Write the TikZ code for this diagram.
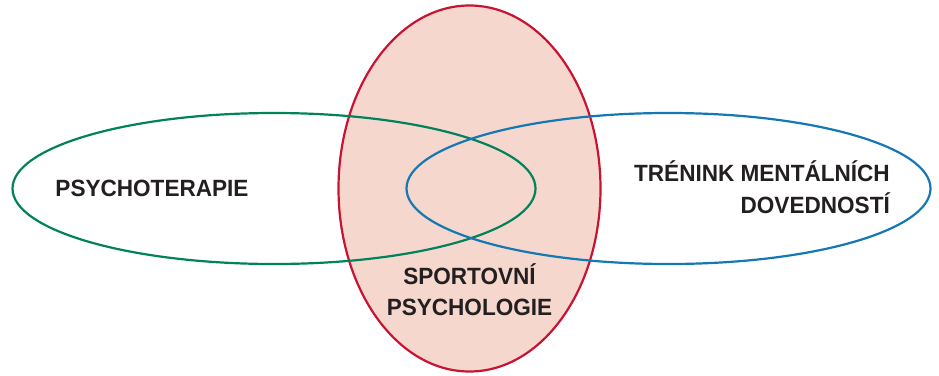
\documentclass[tikz,border=0pt]{standalone}
\usepackage{fontspec}
\setmainfont{Liberation Sans}[FakeStretch=0.96]
\usetikzlibrary{shapes.geometric}

\definecolor{psyGreen}{RGB}{0,130,90}
\definecolor{mentBlue}{RGB}{20,120,180}
\definecolor{sportRed}{RGB}{200,20,50}
\definecolor{sportFill}{RGB}{245,215,205}
\definecolor{labelGray}{RGB}{35,31,32}

\begin{document}
\begin{tikzpicture}[
  x=1pt,y=-1pt,
  field/.style={ellipse,draw,line width=2.2pt,inner sep=0pt},
  label/.style={font=\bfseries\fontsize{23.5}{31.5}\selectfont,text=labelGray,inner sep=0pt}
]
  \useasboundingbox (0,0) rectangle (939,375);

  % sports psychology in the middle
  \node[field,draw=sportRed,fill=sportFill,minimum width=262pt,minimum height=366pt] (sport) at (469.5,188.5) {};
  \node[field,draw=psyGreen,minimum width=523pt,minimum height=151pt] (psycho) at (274,188.5) {};
  \node[field,draw=mentBlue,minimum width=524pt,minimum height=151pt] (mental) at (668.5,188.5) {};

  \node[label,anchor=base] (psycholbl) at (152,196) {PSYCHOTERAPIE};
  \node[label,align=center,anchor=base] (sportlbl) at (469.5,315.5) {SPORTOVNÍ\\PSYCHOLOGIE};
  \node[label,align=right,anchor=base east] (mentallbl) at (890,213) {TRÉNINK MENTÁLNÍCH\\DOVEDNOSTÍ};
\end{tikzpicture}
\end{document}
